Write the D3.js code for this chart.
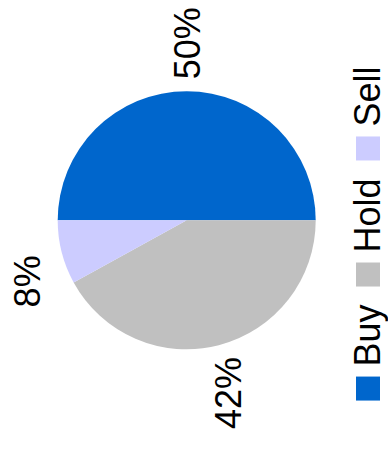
<!DOCTYPE html>
<html>
<head>
<meta charset="utf-8">
<script src="https://cdn.jsdelivr.net/npm/d3@7"></script>
<style>
  html, body { margin: 0; padding: 0; background: #fff; }
  svg { display: block; }
  text { font-family: "Liberation Sans", Arial, sans-serif; fill: #000; }
</style>
</head>
<body>
<div id="chart"></div>
<script>
// Analyst recommendation split
const categories = ["Buy", "Hold", "Sell"];
const shares = [50, 42, 8];
const colors = ["#0066CC", "#C0C0C0", "#CCCCFF"];

const W = 388, H = 450;          // page size
const FW = H, FH = W;            // drawing frame (laid out sideways)
const fontSize = 36;

const svg = d3.select("#chart").append("svg")
  .attr("width", W).attr("height", H);

// The whole chart is composed in a landscape frame and turned a quarter turn.
const frame = svg.append("g")
  .attr("transform", `translate(0,${H}) rotate(-90)`);

const cx = 229.7, cy = 186.7, radius = 129;

const pie = d3.pie().sort(null).value(d => d.value);
const arcs = pie(categories.map((c, i) => ({ name: c, value: shares[i] })));
const color = d3.scaleOrdinal().domain(categories).range(colors);
const arc = d3.arc().innerRadius(0).outerRadius(radius);

const pieG = frame.append("g").attr("transform", `translate(${cx},${cy})`);
pieG.selectAll("path").data(arcs).join("path")
  .attr("d", arc)
  .attr("fill", d => color(d.data.name));

// Percentage labels just outside each slice
const pad = 12;
pieG.selectAll("text.pct").data(arcs).join("text")
  .attr("class", "pct")
  .style("font-size", fontSize + "px")
  .each(function (d) {
    const a = (d.startAngle + d.endAngle) / 2;
    const dx = Math.sin(a), dy = -Math.cos(a);
    const px = dx * (radius + pad), py = dy * (radius + pad);
    const anchor = dx > 0.1 ? "start" : dx < -0.1 ? "end" : "middle";
    const centerY = py + dy * 24;
    d3.select(this)
      .attr("x", px)
      .attr("y", centerY + 0.358 * fontSize)
      .attr("text-anchor", anchor)
      .text(d.data.value + "%");
  });

// Legend along the bottom of the frame
const sw = 24, gapText = 10, gapItem = 18, legendCenter = 216.5, baseline = 380;
const legend = frame.append("g");
const items = legend.selectAll("g").data(categories).join("g");
items.append("rect")
  .attr("width", sw).attr("height", sw)
  .attr("y", baseline - sw)
  .attr("fill", d => color(d));
items.append("text")
  .style("font-size", fontSize + "px")
  .attr("x", sw + gapText)
  .attr("y", baseline)
  .text(d => d);

let widths = [];
items.each(function () {
  widths.push(sw + gapText + d3.select(this).select("text").node().getComputedTextLength());
});
const total = d3.sum(widths) + gapItem * (widths.length - 1);
let x0 = legendCenter - total / 2;
items.attr("transform", (d, i) => {
  const t = `translate(${x0},0)`;
  x0 += widths[i] + gapItem;
  return t;
});
</script>
</body>
</html>
